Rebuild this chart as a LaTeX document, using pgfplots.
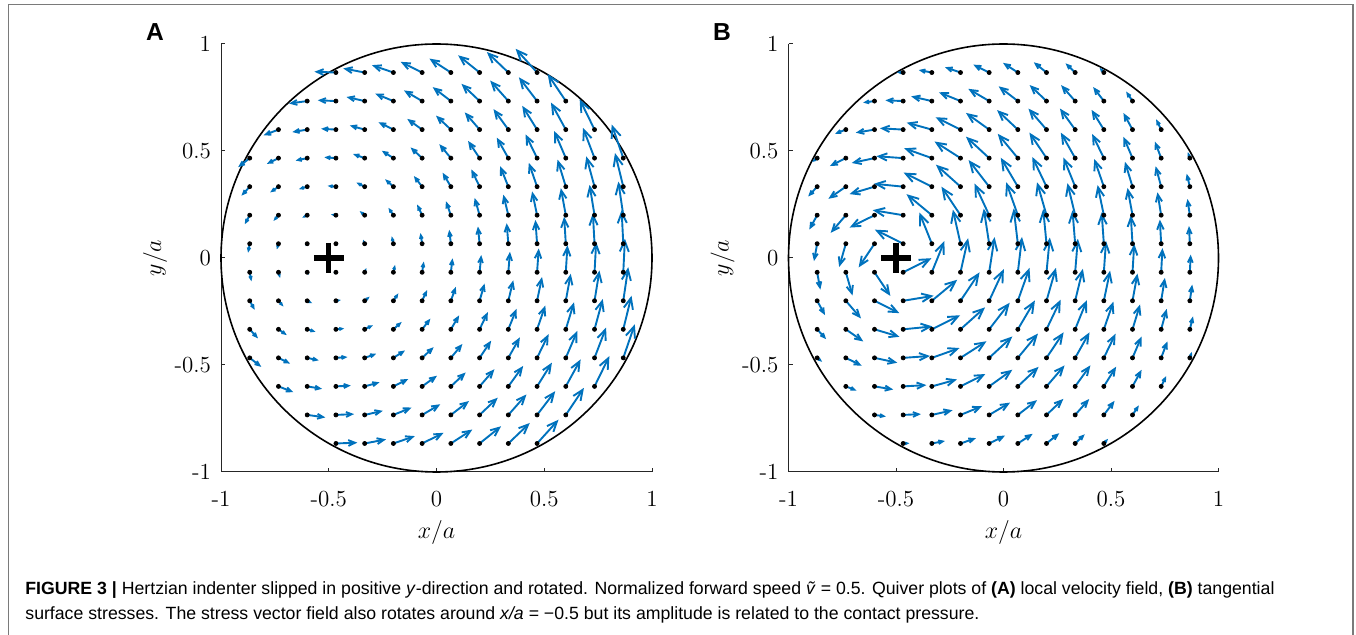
\documentclass[border=0pt]{standalone}
\usepackage{fontspec}
\usepackage{pgfplots}
\usepackage{pgfplotstable}
\pgfplotsset{compat=1.18}
\usetikzlibrary{arrows.meta}
\newfontfamily\capfont{Liberation Sans}
\definecolor{qblue}{HTML}{0072BD}
\definecolor{axgray}{HTML}{262626}
\definecolor{framegray}{HTML}{7A7A7A}

% grid points (odd/15), velocity (ua,va) and stress (ub,vb)
\pgfplotstableread{
x y ua va ub vb
-0.4667 0.8667 -0.8667 0.0333 -0.1763 0.0068
-0.3333 0.8667 -0.8667 0.1667 -0.3645 0.0701
-0.2000 0.8667 -0.8667 0.3000 -0.4320 0.1495
-0.0667 0.8667 -0.8667 0.4333 -0.4422 0.2211
0.0667 0.8667 -0.8667 0.5667 -0.4138 0.2706
0.2000 0.8667 -0.8667 0.7000 -0.3556 0.2872
0.3333 0.8667 -0.8667 0.8333 -0.2676 0.2573
0.4667 0.8667 -0.8667 0.9667 -0.1178 0.1313
-0.6000 0.7333 -0.7333 -0.1000 -0.3168 -0.0432
-0.4667 0.7333 -0.7333 0.0333 -0.4939 0.0224
-0.3333 0.7333 -0.7333 0.1667 -0.5778 0.1313
-0.2000 0.7333 -0.7333 0.3000 -0.6014 0.2460
-0.0667 0.7333 -0.7333 0.4333 -0.5825 0.3442
0.0667 0.7333 -0.7333 0.5667 -0.5353 0.4137
0.2000 0.7333 -0.7333 0.7000 -0.4700 0.4487
0.3333 0.7333 -0.7333 0.8333 -0.3914 0.4448
0.4667 0.7333 -0.7333 0.9667 -0.2988 0.3939
0.6000 0.7333 -0.7333 1.1000 -0.1773 0.2660
-0.7333 0.6000 -0.6000 -0.2333 -0.2980 -0.1159
-0.6000 0.6000 -0.6000 -0.1000 -0.5220 -0.0870
-0.4667 0.6000 -0.6000 0.0333 -0.6488 0.0361
-0.3333 0.6000 -0.6000 0.1667 -0.7007 0.1947
-0.2000 0.6000 -0.6000 0.3000 -0.6928 0.3464
-0.0667 0.6000 -0.6000 0.4333 -0.6463 0.4668
0.0667 0.6000 -0.6000 0.5667 -0.5796 0.5474
0.2000 0.6000 -0.6000 0.7000 -0.5041 0.5881
0.3333 0.6000 -0.6000 0.8333 -0.4249 0.5901
0.4667 0.6000 -0.6000 0.9667 -0.3427 0.5521
0.6000 0.6000 -0.6000 1.1000 -0.2534 0.4646
0.7333 0.6000 -0.6000 1.2333 -0.1399 0.2875
-0.8667 0.4667 -0.4667 -0.3667 -0.1387 -0.1090
-0.7333 0.4667 -0.4667 -0.2333 -0.4423 -0.2211
-0.6000 0.4667 -0.4667 -0.1000 -0.6354 -0.1361
-0.4667 0.4667 -0.4667 0.0333 -0.7494 0.0535
-0.3333 0.4667 -0.4667 0.1667 -0.7715 0.2756
-0.2000 0.4667 -0.4667 0.3000 -0.7247 0.4658
-0.0667 0.4667 -0.4667 0.4333 -0.6463 0.6001
0.0667 0.4667 -0.4667 0.5667 -0.5606 0.6808
0.2000 0.4667 -0.4667 0.7000 -0.4779 0.7168
0.3333 0.4667 -0.4667 0.8333 -0.4003 0.7148
0.4667 0.4667 -0.4667 0.9667 -0.3267 0.6766
0.6000 0.4667 -0.4667 1.1000 -0.2538 0.5982
0.7333 0.4667 -0.4667 1.2333 -0.1750 0.4624
0.8667 0.4667 -0.4667 1.3667 -0.0570 0.1669
-0.8667 0.3333 -0.3333 -0.3667 -0.2497 -0.2747
-0.7333 0.3333 -0.3333 -0.2333 -0.4854 -0.3397
-0.6000 0.3333 -0.3333 -0.1000 -0.6965 -0.2089
-0.4667 0.3333 -0.3333 0.0333 -0.8151 0.0815
-0.3333 0.3333 -0.3333 0.1667 -0.7888 0.3944
-0.2000 0.3333 -0.3333 0.3000 -0.6849 0.6164
-0.0667 0.3333 -0.3333 0.4333 -0.5734 0.7454
0.0667 0.3333 -0.3333 0.5667 -0.4768 0.8106
0.2000 0.3333 -0.3333 0.7000 -0.3961 0.8319
0.3333 0.3333 -0.3333 0.8333 -0.3275 0.8188
0.4667 0.3333 -0.3333 0.9667 -0.2671 0.7745
0.6000 0.3333 -0.3333 1.1000 -0.2109 0.6959
0.7333 0.3333 -0.3333 1.2333 -0.1546 0.5719
0.8667 0.3333 -0.3333 1.3667 -0.0879 0.3606
-0.8667 0.2000 -0.2000 -0.3667 -0.2189 -0.4014
-0.7333 0.2000 -0.2000 -0.2333 -0.4229 -0.4934
-0.6000 0.2000 -0.2000 -0.1000 -0.6928 -0.3464
-0.4667 0.2000 -0.2000 0.0333 -0.8498 0.1416
-0.3333 0.2000 -0.2000 0.1667 -0.7078 0.5899
-0.2000 0.2000 -0.2000 0.3000 -0.5321 0.7981
-0.0667 0.2000 -0.2000 0.4333 -0.4097 0.8876
0.0667 0.2000 -0.2000 0.5667 -0.3253 0.9218
0.2000 0.2000 -0.2000 0.7000 -0.2635 0.9223
0.3333 0.2000 -0.2000 0.8333 -0.2151 0.8960
0.4667 0.2000 -0.2000 0.9667 -0.1745 0.8437
0.6000 0.2000 -0.2000 1.1000 -0.1386 0.7621
0.7333 0.2000 -0.2000 1.2333 -0.1040 0.6414
0.8667 0.2000 -0.2000 1.3667 -0.0662 0.4523
-0.8667 0.0667 -0.0667 -0.3667 -0.0885 -0.4865
-0.7333 0.0667 -0.0667 -0.2333 -0.1859 -0.6505
-0.6000 0.0667 -0.0667 -0.1000 -0.4422 -0.6633
-0.4667 0.0667 -0.0667 0.0333 -0.7888 0.3944
-0.3333 0.0667 -0.0667 0.1667 -0.3493 0.8732
-0.2000 0.0667 -0.0667 0.3000 -0.2120 0.9542
-0.0667 0.0667 -0.0667 0.4333 -0.1514 0.9840
0.0667 0.0667 -0.0667 0.5667 -0.1163 0.9887
0.2000 0.0667 -0.0667 0.7000 -0.0927 0.9731
0.3333 0.0667 -0.0667 0.8333 -0.0750 0.9374
0.4667 0.0667 -0.0667 0.9667 -0.0607 0.8798
0.6000 0.0667 -0.0667 1.1000 -0.0482 0.7958
0.7333 0.0667 -0.0667 1.2333 -0.0365 0.6756
0.8667 0.0667 -0.0667 1.3667 -0.0241 0.4938
-0.8667 -0.0667 0.0667 -0.3667 0.0885 -0.4865
-0.7333 -0.0667 0.0667 -0.2333 0.1859 -0.6505
-0.6000 -0.0667 0.0667 -0.1000 0.4422 -0.6633
-0.4667 -0.0667 0.0667 0.0333 0.7888 0.3944
-0.3333 -0.0667 0.0667 0.1667 0.3493 0.8732
-0.2000 -0.0667 0.0667 0.3000 0.2120 0.9542
-0.0667 -0.0667 0.0667 0.4333 0.1514 0.9840
0.0667 -0.0667 0.0667 0.5667 0.1163 0.9887
0.2000 -0.0667 0.0667 0.7000 0.0927 0.9731
0.3333 -0.0667 0.0667 0.8333 0.0750 0.9374
0.4667 -0.0667 0.0667 0.9667 0.0607 0.8798
0.6000 -0.0667 0.0667 1.1000 0.0482 0.7958
0.7333 -0.0667 0.0667 1.2333 0.0365 0.6756
0.8667 -0.0667 0.0667 1.3667 0.0241 0.4938
-0.8667 -0.2000 0.2000 -0.3667 0.2189 -0.4014
-0.7333 -0.2000 0.2000 -0.2333 0.4229 -0.4934
-0.6000 -0.2000 0.2000 -0.1000 0.6928 -0.3464
-0.4667 -0.2000 0.2000 0.0333 0.8498 0.1416
-0.3333 -0.2000 0.2000 0.1667 0.7078 0.5899
-0.2000 -0.2000 0.2000 0.3000 0.5321 0.7981
-0.0667 -0.2000 0.2000 0.4333 0.4097 0.8876
0.0667 -0.2000 0.2000 0.5667 0.3253 0.9218
0.2000 -0.2000 0.2000 0.7000 0.2635 0.9223
0.3333 -0.2000 0.2000 0.8333 0.2151 0.8960
0.4667 -0.2000 0.2000 0.9667 0.1745 0.8437
0.6000 -0.2000 0.2000 1.1000 0.1386 0.7621
0.7333 -0.2000 0.2000 1.2333 0.1040 0.6414
0.8667 -0.2000 0.2000 1.3667 0.0662 0.4523
-0.8667 -0.3333 0.3333 -0.3667 0.2497 -0.2747
-0.7333 -0.3333 0.3333 -0.2333 0.4854 -0.3397
-0.6000 -0.3333 0.3333 -0.1000 0.6965 -0.2089
-0.4667 -0.3333 0.3333 0.0333 0.8151 0.0815
-0.3333 -0.3333 0.3333 0.1667 0.7888 0.3944
-0.2000 -0.3333 0.3333 0.3000 0.6849 0.6164
-0.0667 -0.3333 0.3333 0.4333 0.5734 0.7454
0.0667 -0.3333 0.3333 0.5667 0.4768 0.8106
0.2000 -0.3333 0.3333 0.7000 0.3961 0.8319
0.3333 -0.3333 0.3333 0.8333 0.3275 0.8188
0.4667 -0.3333 0.3333 0.9667 0.2671 0.7745
0.6000 -0.3333 0.3333 1.1000 0.2109 0.6959
0.7333 -0.3333 0.3333 1.2333 0.1546 0.5719
0.8667 -0.3333 0.3333 1.3667 0.0879 0.3606
-0.8667 -0.4667 0.4667 -0.3667 0.1387 -0.1090
-0.7333 -0.4667 0.4667 -0.2333 0.4423 -0.2211
-0.6000 -0.4667 0.4667 -0.1000 0.6354 -0.1361
-0.4667 -0.4667 0.4667 0.0333 0.7494 0.0535
-0.3333 -0.4667 0.4667 0.1667 0.7715 0.2756
-0.2000 -0.4667 0.4667 0.3000 0.7247 0.4658
-0.0667 -0.4667 0.4667 0.4333 0.6463 0.6001
0.0667 -0.4667 0.4667 0.5667 0.5606 0.6808
0.2000 -0.4667 0.4667 0.7000 0.4779 0.7168
0.3333 -0.4667 0.4667 0.8333 0.4003 0.7148
0.4667 -0.4667 0.4667 0.9667 0.3267 0.6766
0.6000 -0.4667 0.4667 1.1000 0.2538 0.5982
0.7333 -0.4667 0.4667 1.2333 0.1750 0.4624
0.8667 -0.4667 0.4667 1.3667 0.0570 0.1669
-0.7333 -0.6000 0.6000 -0.2333 0.2980 -0.1159
-0.6000 -0.6000 0.6000 -0.1000 0.5220 -0.0870
-0.4667 -0.6000 0.6000 0.0333 0.6488 0.0361
-0.3333 -0.6000 0.6000 0.1667 0.7007 0.1947
-0.2000 -0.6000 0.6000 0.3000 0.6928 0.3464
-0.0667 -0.6000 0.6000 0.4333 0.6463 0.4668
0.0667 -0.6000 0.6000 0.5667 0.5796 0.5474
0.2000 -0.6000 0.6000 0.7000 0.5041 0.5881
0.3333 -0.6000 0.6000 0.8333 0.4249 0.5901
0.4667 -0.6000 0.6000 0.9667 0.3427 0.5521
0.6000 -0.6000 0.6000 1.1000 0.2534 0.4646
0.7333 -0.6000 0.6000 1.2333 0.1399 0.2875
-0.6000 -0.7333 0.7333 -0.1000 0.3168 -0.0432
-0.4667 -0.7333 0.7333 0.0333 0.4939 0.0224
-0.3333 -0.7333 0.7333 0.1667 0.5778 0.1313
-0.2000 -0.7333 0.7333 0.3000 0.6014 0.2460
-0.0667 -0.7333 0.7333 0.4333 0.5825 0.3442
0.0667 -0.7333 0.7333 0.5667 0.5353 0.4137
0.2000 -0.7333 0.7333 0.7000 0.4700 0.4487
0.3333 -0.7333 0.7333 0.8333 0.3914 0.4448
0.4667 -0.7333 0.7333 0.9667 0.2988 0.3939
0.6000 -0.7333 0.7333 1.1000 0.1773 0.2660
-0.4667 -0.8667 0.8667 0.0333 0.1763 0.0068
-0.3333 -0.8667 0.8667 0.1667 0.3645 0.0701
-0.2000 -0.8667 0.8667 0.3000 0.4320 0.1495
-0.0667 -0.8667 0.8667 0.4333 0.4422 0.2211
0.0667 -0.8667 0.8667 0.5667 0.4138 0.2706
0.2000 -0.8667 0.8667 0.7000 0.3556 0.2872
0.3333 -0.8667 0.8667 0.8333 0.2676 0.2573
0.4667 -0.8667 0.8667 0.9667 0.1178 0.1313
}\qtab

\pgfplotsset{
  panel/.style={
    scale only axis, width=215.5pt, height=214pt,
    xmin=-1, xmax=1, ymin=-1, ymax=1,
    axis lines*=left, clip=false,
    axis line style={axgray, line width=0.5pt},
    tick style={axgray, line width=0.5pt},
    tick align=inside, major tick length=2.2pt,
    xtick={-1,-0.5,0,0.5,1}, ytick={-1,-0.5,0,0.5,1},
    /pgf/number format/assume math mode=true,
    tick label style={font=\fontsize{11.5}{13}\selectfont, black},
    xticklabel style={yshift=-6pt},
    yticklabel style={xshift=-1.5pt},
    every axis x label/.style={at={(axis description cs:0.5,0)}, yshift=-30.5pt, anchor=center},
    every axis y label/.style={at={(axis description cs:0,0.5)}, xshift=-33pt, rotate=90, anchor=center},
    label style={font=\fontsize{11.5}{13}\selectfont},
    xlabel={$x/a$}, ylabel={$y/a$},
    point meta min=0,
  },
  arrowsty/.style 2 args={qblue, line width=0.95pt,
    quiver={u=\thisrow{#1}, v=\thisrow{#2},
      every arrow/.append style={-{Straight Barb[length=5.6pt,width=4.8pt,scale={max(0.12,\pgfplotspointmetatransformed/1000)}]}}}},
}

\begin{document}
\begin{tikzpicture}
\useasboundingbox (0,0) rectangle (678pt,-317.5pt);
\draw[framegray, line width=0.75pt] (4.2pt,-320pt) -- (4.2pt,-2.2pt) -- (676.4pt,-2.2pt) -- (676.4pt,-320pt);

% (A) local velocity field
\begin{axis}[panel, at={(110.5pt,-236pt)}, anchor=south west, point meta max=1.4444]
\draw[black, line width=0.8pt] (axis cs:0,0) ellipse [x radius=1, y radius=1];
\addplot[arrowsty={ua}{va}, point meta={veclen(\thisrow{ua},\thisrow{va})},
  quiver={scale arrows=0.1149}] table[x=x, y=y] {\qtab};
\addplot[only marks, mark=*, mark size=1pt, black] table[x=x, y=y] {\qtab};
\addplot[only marks, mark=+, mark size=7.5pt, line width=2.6pt, black] coordinates {(-0.5,0)};
\end{axis}

% (B) tangential surface stresses
\begin{axis}[panel, at={(394.25pt,-236pt)}, anchor=south west, width=215pt, point meta max=0.9955]
\draw[black, line width=0.8pt] (axis cs:0,0) ellipse [x radius=1, y radius=1];
\addplot[arrowsty={ub}{vb}, point meta={veclen(\thisrow{ub},\thisrow{vb})},
  quiver={scale arrows=0.1668}] table[x=x, y=y] {\qtab};
\addplot[only marks, mark=*, mark size=1pt, black] table[x=x, y=y] {\qtab};
\addplot[only marks, mark=+, mark size=7.5pt, line width=2.6pt, black] coordinates {(-0.5,0)};
\end{axis}

\node[font=\capfont\bfseries\fontsize{12.3}{14}\selectfont] at (77.5pt,-16pt) {A};
\node[font=\capfont\bfseries\fontsize{12.3}{14}\selectfont] at (361pt,-16pt) {B};

\node[anchor=base west, inner sep=0pt, font=\capfont\fontsize{8.85}{10}\selectfont] at (12.5pt,-297.5pt)
  {\textbf{FIGURE 3 |} Hertzian indenter slipped in positive \textit{y}-direction and rotated. Normalized forward speed \textit{\~{v}} = 0.5. Quiver plots of \textbf{(A)} local velocity field, \textbf{(B)} tangential};
\node[anchor=base west, inner sep=0pt, font=\capfont\fontsize{8.85}{10}\selectfont] at (12.5pt,-309.7pt)
  {surface stresses. The stress vector field also rotates around \textit{x/a} = −0.5 but its amplitude is related to the contact pressure.};
\end{tikzpicture}
\end{document}
